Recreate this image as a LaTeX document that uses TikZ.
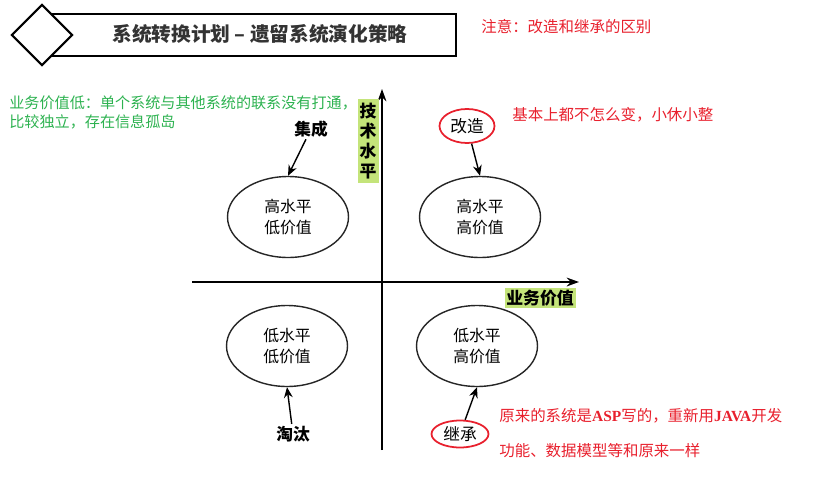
\documentclass[tikz,border=0pt]{standalone}
\usepackage{fontspec}
\setmainfont{Noto Sans CJK SC}
\newfontfamily\latinbold{Liberation Serif}
\usetikzlibrary{arrows.meta, shapes.geometric, positioning}
\definecolor{notered}{RGB}{232,32,45}
\definecolor{notegreen}{RGB}{45,178,80}
\definecolor{hilite}{RGB}{196,228,122}
\tikzset{
  quadrant/.style={
    ellipse, draw=black!85, thick,
    minimum width=2.42cm, minimum height=1.62cm,
    align=center, font=\fontsize{9}{12}\selectfont, inner sep=0pt
  },
  redring/.style={
    ellipse, draw=notered, line width=1pt,
    inner sep=0pt, font=\fontsize{9.5}{11}\selectfont
  },
  tagword/.style={font=\bfseries\fontsize{9.5}{11}\selectfont, inner sep=1pt},
  rednote/.style={
    text=notered, anchor=west, inner sep=0pt, align=left,
    font=\fontsize{8.8}{11}\selectfont
  },
  greennote/.style={
    text=notegreen, anchor=west, inner sep=0pt, align=left,
    font=\fontsize{8.6}{10.8}\selectfont
  },
  axisname/.style={
    fill=hilite, inner sep=1pt, align=center,
    font=\bfseries\fontsize{9.6}{11.5}\selectfont
  },
  arrow/.style={-{Stealth[length=6pt,width=5pt]}, thick, draw=black},
  axisline/.style={-{Stealth[length=7pt,width=5pt]}, line width=1.1pt}
}

\begin{document}
\begin{tikzpicture}[x=0.02cm, y=-0.02cm]
  \useasboundingbox (0,0) rectangle (837,483);

  % header band and diamond
  \node[draw, line width=1.1pt, anchor=north west, inner sep=0pt,
        minimum width=8.26cm, minimum height=0.84cm] (band) at (42,13) {};
  \node[diamond, draw, line width=1.2pt, fill=white, aspect=1, inner sep=0pt,
        minimum width=1.22cm, minimum height=1.22cm] (mark) at (42,35) {};
  \node[font=\bfseries\fontsize{11.2}{12}\selectfont, text=black!80] (title) at (260,34)
    {系统转换计划 – 遗留系统演化策略};

  % notes
  \node[rednote] (hint) at (481,27) {注意：改造和继承的区别};
  \node[greennote] (lowvalue) at (9,112.5)
    {业务价值低：单个系统与其他系统的联系没有打通，\\比较独立，存在信息孤岛};
  \node[rednote] (minor) at (512,115) {基本上都不怎么变，小休小整};
  \node[rednote, font=\fontsize{8.8}{19.8}\selectfont] (rewrite) at (499,433.5)
    {原来的系统是{\latinbold\bfseries ASP}写的，重新用{\latinbold\bfseries JAVA}开发\\功能、数据模型等和原来一样};

  % axes
  \coordinate (vbot) at (382,450);
  \coordinate (vtop) at (382,89);
  \coordinate (hleft) at (192,282);
  \coordinate (hright) at (579,282);
  \draw[axisline] (vbot) -- (vtop);
  \draw[axisline] (hleft) -- (hright);
  \node[axisname, minimum width=0.42cm, minimum height=1.68cm] (tech) at (368,141)
    {技\\术\\水\\平};
  \node[axisname] (biz) at (540,298) {业务价值};

  % quadrants
  \node[quadrant] (tl) at (288,217) {高水平\\低价值};
  \node[quadrant] (tr) at (480,217) {高水平\\高价值};
  \node[quadrant] (bl) at (287,346) {低水平\\低价值};
  \node[quadrant] (br) at (477,346) {低水平\\高价值};

  % strategies
  \node[tagword] (merge) at (311,129) {集成};
  \node[redring, minimum width=1.1cm, minimum height=0.68cm] (reform) at (467,126) {改造};
  \node[tagword] (retire) at (293,434) {淘汰};
  \node[redring, minimum width=1.14cm, minimum height=0.54cm] (inherit) at (460,434) {继承};

  \draw[arrow] (merge) -- (tl.north);
  \draw[arrow] (reform) -- (tr.north);
  \draw[arrow] (retire) -- (bl.south);
  \draw[arrow] (inherit) -- (br.south);
\end{tikzpicture}
\end{document}
